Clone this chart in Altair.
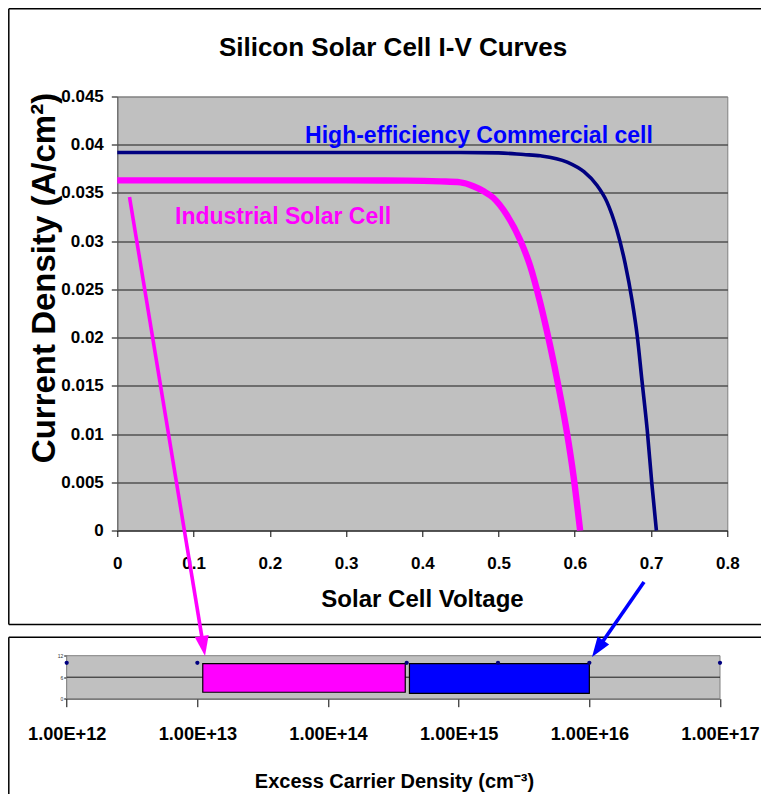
import altair as alt
import pandas as pd

# ---------------- data ----------------
hi_eff_v = [0.0, 0.1, 0.2, 0.3, 0.4, 0.45, 0.5, 0.533, 0.555, 0.59, 0.612, 0.629,
            0.642, 0.655, 0.666, 0.675, 0.682, 0.688, 0.695, 0.701, 0.707]
hi_eff_j = [0.0392, 0.0392, 0.0392, 0.0392, 0.0392, 0.0392, 0.03915, 0.03898, 0.03885,
            0.0382, 0.0372, 0.0358, 0.0341, 0.0312, 0.0277, 0.0239, 0.0201, 0.0156,
            0.0104, 0.0049, 0.0]

ind_v = [0.0, 0.1, 0.2, 0.3, 0.38, 0.424, 0.45, 0.467, 0.48, 0.493, 0.511, 0.5285,
         0.5416, 0.5547, 0.5678, 0.5787, 0.5898, 0.5984, 0.607]
ind_j = [0.0363, 0.0363, 0.0363, 0.0363, 0.03628, 0.0362, 0.0361, 0.0357, 0.0352,
         0.0345, 0.0327, 0.0301, 0.0274, 0.0236, 0.0191, 0.0149, 0.0101, 0.0056, 0.0]

volt_ticks = [0, 0.1, 0.2, 0.3, 0.4, 0.5, 0.6, 0.7, 0.8]
curr_ticks = [0, 0.005, 0.01, 0.015, 0.02, 0.025, 0.03, 0.035, 0.04, 0.045]

marker_x = [1e12, 1e13, 4e14, 2e15, 1e16, 1e17]
marker_y = [10, 10, 10, 10, 10, 10]

range_name = ["Industrial Solar Cell", "High-efficiency Commercial cell"]
range_lo = [1.1e13, 4.2e14]
range_hi = [3.9e14, 1.0e16]
range_bottom = [1.8, 1.5]
range_top = [9.8, 9.8]
range_color = ["#FF00FF", "#0000FF"]

dens_domain = [1e12, 1e17]
dens_ticks = [1e12, 1e13, 1e14, 1e15, 1e16, 1e17]
dens_y_ticks = [0, 6, 12]
dens_grid = [6]

title_text = "Silicon Solar Cell I-V Curves"
label_hi = "High-efficiency Commercial cell"
label_ind = "Industrial Solar Cell"

# ---------------- layout (page pixels) ----------------
FN = "Liberation Sans, Arial, sans-serif"
ORIG = 8                                       # page margin
SVG_W, SVG_H = 753, 786
P1L, P1T, W1, H1 = 117.3, 96.5, 610, 434       # top plot area on the page
P2L, P2R, P2T, P2B = 66.7, 720.0, 655.7, 698.7  # bottom plot area on the page
PAGE_R = ORIG + SVG_W
PAGE_B = ORIG + SVG_H


def rp(px):
    return px - P1L


def rq(py):
    return py - P1T


one = pd.DataFrame({"k": [0]})

# ---------------- top panel ----------------
hi_df = pd.DataFrame({"V": hi_eff_v, "J": hi_eff_j})
ind_df = pd.DataFrame({"V": ind_v, "J": ind_j})

xs1 = alt.Scale(domain=[0, 0.8], nice=False, zero=False)
ys1 = alt.Scale(domain=[0, 0.045], nice=False, zero=False)

x_axis1 = alt.Axis(
    orient="bottom",
    values=volt_ticks, labelExpr="toString(round(datum.value*10)/10)",
    grid=False, tickSize=6, tickColor="black", domainColor="#404040",
    labelPadding=19, labelFont=FN, labelFontSize=17, labelFontWeight="bold",
    labelColor="black", labelFlush=False, labelOverlap=False,
    title="Solar Cell Voltage", titleFont=FN, titleFontSize=24,
    titleFontWeight="bold", titleColor="black", titleBaseline="alphabetic",
    titleX=rp(422), titleY=75.5,
)
y_axis1 = alt.Axis(
    orient="left",
    values=curr_ticks, labelExpr="toString(round(datum.value*1000)/1000)",
    grid=True,
    gridColor={"condition": {"test": "datum.value > 0.0449", "value": "#808080"},
               "value": "#1a1a1a"},
    gridWidth=1, tickSize=6, tickColor="black", domainColor="#606060",
    labelPadding=8, labelFont=FN, labelFontSize=17, labelFontWeight="bold",
    labelColor="black", labelFlush=False, labelOverlap=False,
    title="Current Density (A/cm²)", titleFont=FN, titleFontSize=33,
    titleFontWeight="bold", titleColor="black", titleAngle=270,
    titleAlign="center", titleBaseline="alphabetic",
    titleX=rp(54), titleY=rq(277.5),
)


def hline(px1, px2, py):
    return alt.Chart(one).mark_rule(color="black", strokeWidth=1.5).encode(
        x=alt.value(rp(px1)), x2=alt.value(rp(px2)), y=alt.value(rq(py)))


def vline(px, py1, py2):
    return alt.Chart(one).mark_rule(color="black", strokeWidth=1.5).encode(
        x=alt.value(rp(px)), y=alt.value(rq(py1)), y2=alt.value(rq(py2)))


borders = [
    vline(8.8, 8.8, 624.5), hline(8.8, PAGE_R, 8.8), hline(8.8, PAGE_R, 624.5),
    vline(8.8, 637.3, PAGE_B), hline(8.8, PAGE_R, 637.3),
]

hi_line = alt.Chart(hi_df).mark_line(
    color="#000080", strokeWidth=3.6, interpolate="monotone").encode(
    x=alt.X("V:Q", scale=xs1, axis=x_axis1),
    y=alt.Y("J:Q", scale=ys1, axis=y_axis1),
)
ind_line = alt.Chart(ind_df).mark_line(
    color="#FF00FF", strokeWidth=6.4, interpolate="monotone").encode(
    x=alt.X("V:Q", scale=xs1, axis=x_axis1),
    y=alt.Y("J:Q", scale=ys1, axis=y_axis1),
)

ann_df = pd.DataFrame({
    "V": [0.2463, 0.0757],
    "J": [0.0402, 0.0318],
    "t": [label_hi, label_ind],
    "c": ["#0000FF", "#FF00FF"],
})
ann = alt.Chart(ann_df).mark_text(
    align="left", baseline="alphabetic", font=FN, fontSize=23, fontWeight="bold").encode(
    x=alt.X("V:Q", scale=xs1), y=alt.Y("J:Q", scale=ys1),
    text="t:N", color=alt.Color("c:N", scale=None),
)

title = alt.Chart(pd.DataFrame({"t": [title_text]})).mark_text(
    align="center", baseline="alphabetic", font=FN, fontSize=26,
    fontWeight="bold", color="black").encode(
    x=alt.value(rp(393)), y=alt.value(rq(56)), text="t:N")

top = alt.layer(*borders, hi_line, ind_line, ann, title)

# ---------------- bottom panel (own scales, placed by pixel range) ----------------
xs2 = alt.Scale(type="log", domain=dens_domain, range=[rp(P2L), rp(P2R)], nice=False)
ys2 = alt.Scale(domain=[0, 12], range=[rq(P2B), rq(P2T)], nice=False, zero=False)

x_axis2 = alt.Axis(
    orient="bottom", offset=rq(P2B) - H1,
    values=dens_ticks, labelExpr="upper(format(datum.value, '.2e'))",
    grid=False, tickSize=8, tickColor="black", domainColor="#404040",
    labelPadding=19, labelFont=FN, labelFontSize=18.2, labelFontWeight="bold",
    labelColor="black", labelFlush=False, labelOverlap=False,
    title="Excess Carrier Density (cm⁻³)", titleFont=FN, titleFontSize=20,
    titleFontWeight="bold", titleColor="black", titleBaseline="alphabetic",
    titleX=rp(394), titleY=88.5,
)
y_axis2 = alt.Axis(
    orient="left", offset=P1L - P2L,
    values=dens_y_ticks, grid=False,
    tickSize=3, tickColor="black", domainColor="#202020",
    labelPadding=1, labelFont=FN, labelFontSize=5, labelColor="#333333",
    labelFlush=False, labelOverlap=False,
)

bg2 = alt.Chart(pd.DataFrame({"x1": [dens_domain[0]], "x2": [dens_domain[1]],
                              "y1": [0], "y2": [12]})).mark_rect(
    fill="#C0C0C0", stroke="#808080", strokeWidth=1).encode(
    x=alt.X("x1:Q", scale=xs2, axis=x_axis2, title="Excess Carrier Density (cm⁻³)"),
    x2="x2:Q",
    y=alt.Y("y1:Q", scale=ys2, axis=y_axis2, title=None),
    y2="y2:Q",
)
grid2 = alt.Chart(pd.DataFrame({"g": dens_grid, "x1": [dens_domain[0]],
                                "x2": [dens_domain[1]]})).mark_rule(
    color="#1a1a1a", strokeWidth=1).encode(
    x=alt.X("x1:Q", scale=xs2), x2="x2:Q", y=alt.Y("g:Q", scale=ys2))

rng_df = pd.DataFrame({
    "name": range_name, "lo": range_lo, "hi": range_hi,
    "b": range_bottom, "t": range_top, "c": range_color,
})
rects = alt.Chart(rng_df).mark_rect(stroke="black", strokeWidth=1.2).encode(
    x=alt.X("lo:Q", scale=xs2), x2="hi:Q",
    y=alt.Y("b:Q", scale=ys2), y2="t:Q",
    color=alt.Color("c:N", scale=None),
)
dots = alt.Chart(pd.DataFrame({"n": marker_x, "y": marker_y})).mark_point(
    filled=True, color="#000080", size=18, opacity=1).encode(
    x=alt.X("n:Q", scale=xs2), y=alt.Y("y:Q", scale=ys2),
)

# arrows (annotations drawn in page-pixel geometry)
HEAD = "M0,1L-0.7,-1L0.7,-1Z"
arrows = [
    alt.Chart(one).mark_rule(color="#FF00FF", strokeWidth=3.6).encode(
        x=alt.value(rp(129.5)), y=alt.value(rq(197)),
        x2=alt.value(rp(203.4)), y2=alt.value(rq(646.1))),
    alt.Chart(one).mark_point(shape=HEAD, filled=True, color="#FF00FF", size=400,
                              opacity=1, angle=350.7).encode(
        x=alt.value(rp(203.4)), y=alt.value(rq(646.1))),
    alt.Chart(one).mark_rule(color="#0000FF", strokeWidth=3.6).encode(
        x=alt.value(rp(644)), y=alt.value(rq(582)),
        x2=alt.value(rp(597.7)), y2=alt.value(rq(648.8))),
    alt.Chart(one).mark_point(shape=HEAD, filled=True, color="#0000FF", size=400,
                              opacity=1, angle=34.7).encode(
        x=alt.value(rp(597.7)), y=alt.value(rq(648.8))),
]

bottom = alt.layer(bg2, grid2, rects, dots, *arrows)

pad = {
    "left": P1L - ORIG,
    "top": P1T - ORIG,
    "right": SVG_W - (P1L - ORIG) - W1,
    "bottom": SVG_H - (P1T - ORIG) - H1,
}

chart = alt.layer(top, bottom).resolve_scale(
    x="independent", y="independent"
).resolve_axis(
    x="independent", y="independent"
).properties(
    width=W1, height=H1, padding=pad, background="white",
    autosize=alt.AutoSizeParams(type="none"),
).configure_view(
    fill="#C0C0C0", stroke="#808080", strokeWidth=1,
)

chart.save("out.html", embed_options={"renderer": "svg", "actions": False})
